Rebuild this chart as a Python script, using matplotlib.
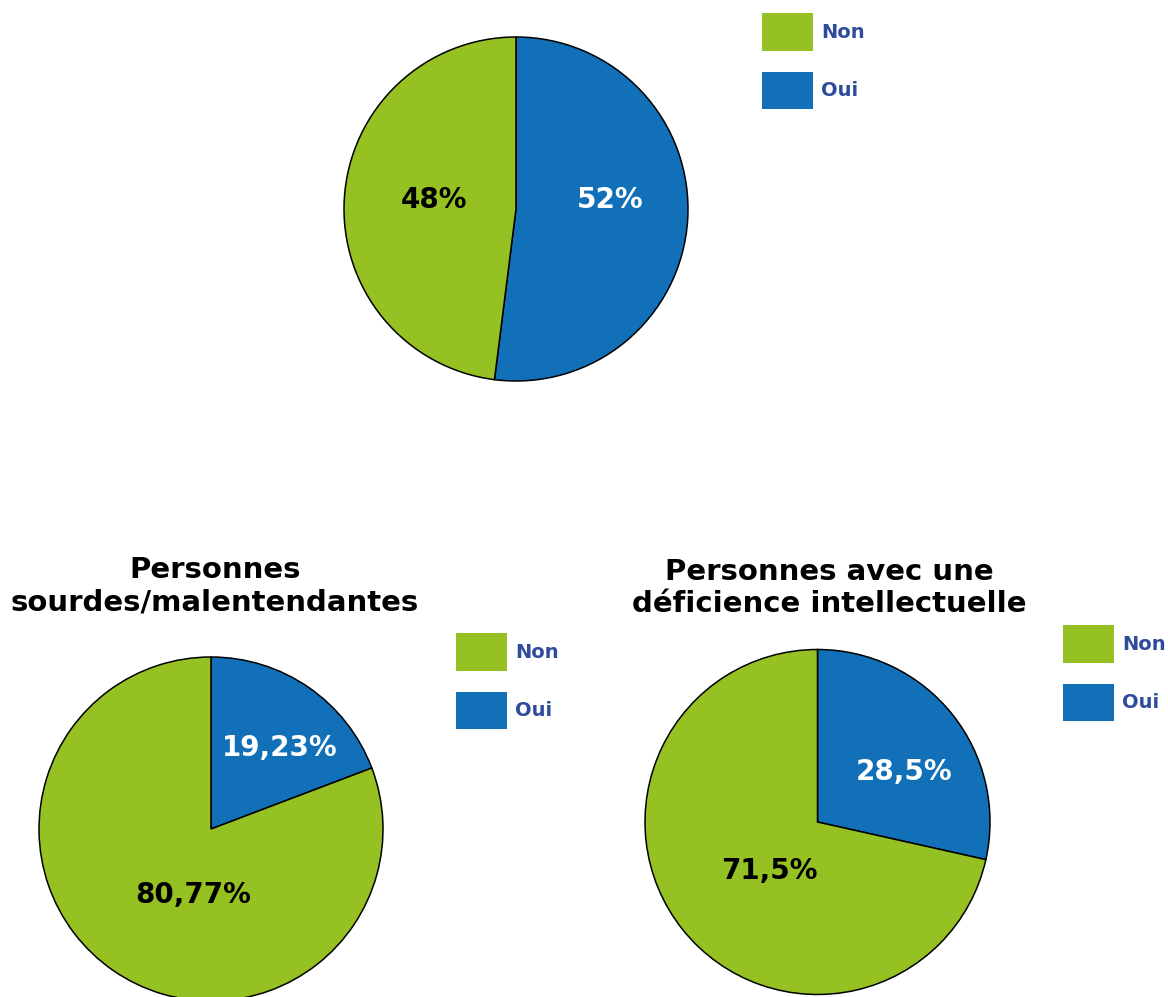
"""
Trois camemberts Oui / Non.
"""

import numpy as np
from matplotlib import pyplot as plt
from matplotlib.patches import Patch

W, H = 1168, 997

GREEN = "#95c123"
BLUE = "#1170b8"
LEGEND_TXT = "#2f4b9b"

categories = ["Oui", "Non"]
legend_order = ["Non", "Oui"]

ensemble_vals = [52, 48]
ensemble_labels = ["52%", "48%"]

sourds_vals = [19.23, 80.77]
sourds_labels = ["19,23%", "80,77%"]

intel_vals = [28.5, 71.5]
intel_labels = ["28,5%", "71,5%"]

titles = ["", "Personnes\nsourdes/malentendantes",
          "Personnes avec une\ndéficience intellectuelle"]


def px_axes(fig, cx, cy, r):
    """Square axes centred on pixel (cx, cy) from the top-left."""
    s = r * 1.02
    return fig.add_axes([(cx - s) / W, (H - cy - s) / H, 2 * s / W, 2 * s / H])


def draw_pie(ax, vals, labels, pctdist):
    wedges, _ = ax.pie(vals, colors=[BLUE, GREEN], startangle=90, counterclock=False,
                       radius=1, wedgeprops=dict(edgecolor="black", linewidth=1.1))
    # label placement: (distance from centre, angular nudge in rad)
    for w, lab, col, d in zip(wedges, labels, ["white", "black"], pctdist):
        ang = np.deg2rad((w.theta1 + w.theta2) / 2) + d[1]
        ax.text(d[0] * np.cos(ang), d[0] * np.sin(ang), lab,
                ha="center", va="center", color=col, fontsize=20, fontweight="bold")
    ax.set_xlim(-1.02, 1.02)
    ax.set_ylim(-1.02, 1.02)
    ax.set_aspect("equal")
    ax.axis("off")


def draw_legend(fig, x, y):
    handles = [Patch(facecolor=GREEN, edgecolor="none"),
               Patch(facecolor=BLUE, edgecolor="none")]
    leg = fig.legend(handles, legend_order, loc="upper left",
                     bbox_to_anchor=(x / W, 1 - y / H), frameon=False,
                     borderpad=0, borderaxespad=0, handlelength=2.6,
                     handleheight=2.6, handletextpad=0.45, labelspacing=1.08,
                     prop=dict(size=14, weight="bold"))
    for t in leg.get_texts():
        t.set_color(LEGEND_TXT)


fig = plt.figure(figsize=(W / 100, H / 100), dpi=100)

ax1 = px_axes(fig, 516, 209, 172)
draw_pie(ax1, ensemble_vals, ensemble_labels, [(0.55, 0.16), (0.48, -0.05)])
draw_legend(fig, 762, 13)

ax2 = px_axes(fig, 211, 829, 172)
draw_pie(ax2, sourds_vals, sourds_labels, [(0.62, -0.1), (0.4, 0.34)])
draw_legend(fig, 456, 633)
fig.text(215 / W, 1 - 586 / H, titles[1], ha="center", va="center",
         fontsize=21, fontweight="bold", linespacing=1.2)

ax3 = px_axes(fig, 817.5, 822, 172.5)
draw_pie(ax3, intel_vals, intel_labels, [(0.58, -0.15), (0.4, 0.12)])
draw_legend(fig, 1063, 625)
fig.text(829 / W, 1 - 588 / H, titles[2], ha="center", va="center",
         fontsize=21, fontweight="bold", linespacing=1.2)

fig.savefig("out.png", dpi=100)
